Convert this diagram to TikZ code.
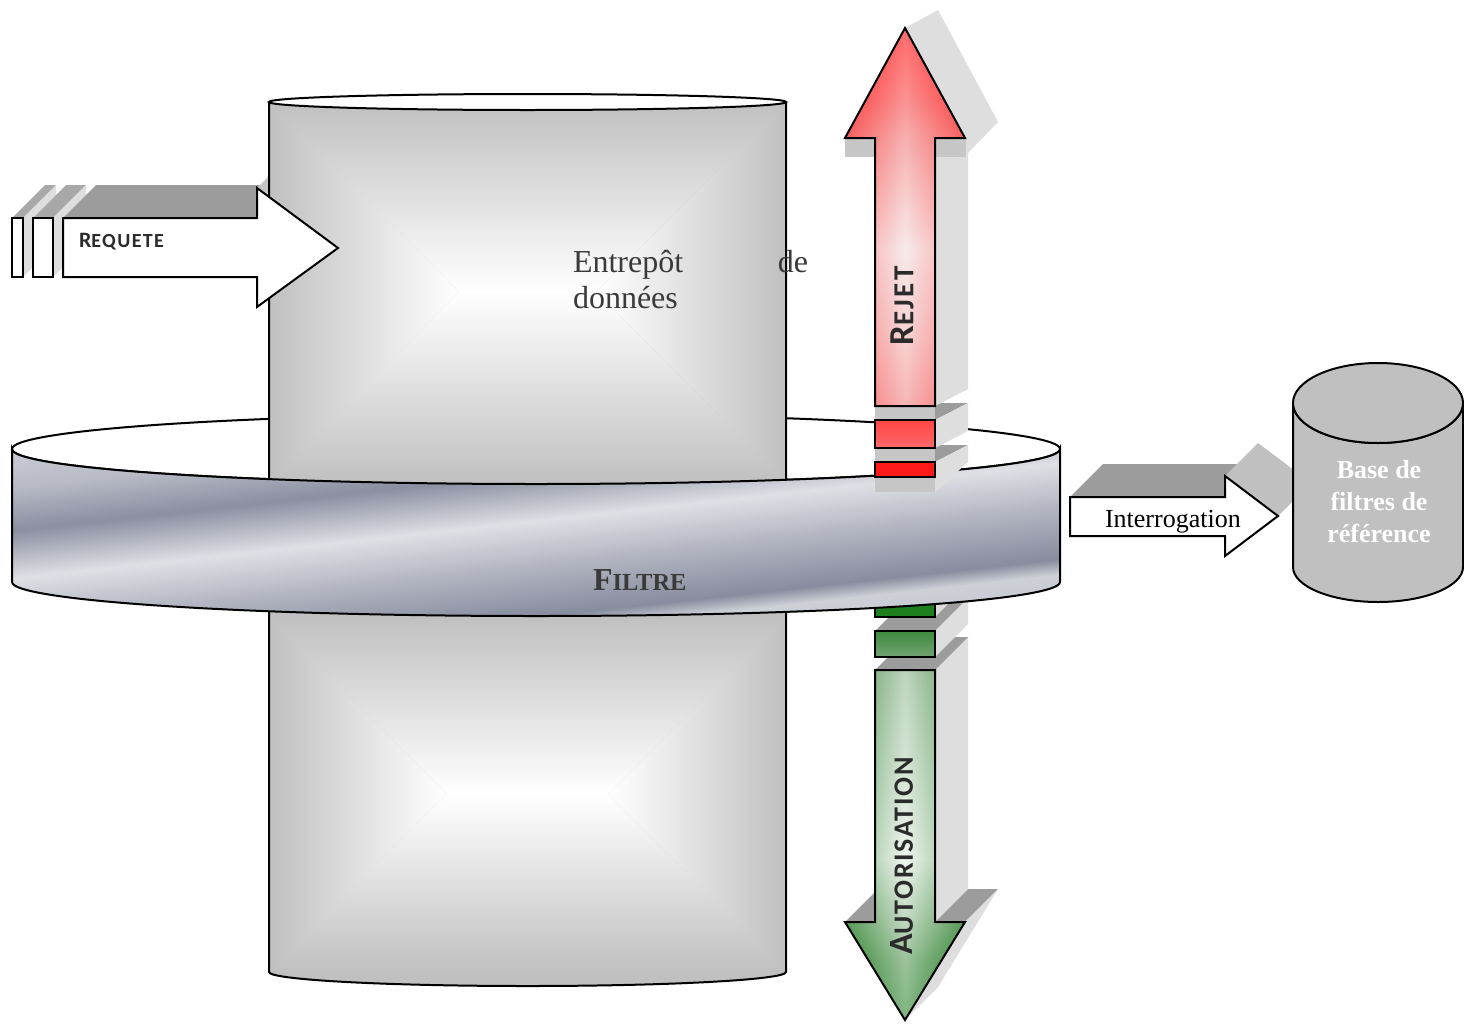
\documentclass[tikz,border=0pt]{standalone}
\usepackage{fontspec}
\setmainfont{Liberation Serif}
\newfontfamily\calib{Carlito}
\definecolor{cylgray}{HTML}{C0C0C0}
\definecolor{shdark}{HTML}{9C9C9C}
\definecolor{shlight}{HTML}{DEDEDE}
\definecolor{shmid}{HTML}{C6C6C6}
\definecolor{shreq}{HTML}{A8A8A8}
\definecolor{txtdark}{HTML}{2B2B2B}
\definecolor{txtgray}{HTML}{3A3A3A}
\definecolor{bsA}{HTML}{D0D2DA}
\definecolor{bsB}{HTML}{B8BBC6}
\definecolor{bsC}{HTML}{8A8FA1}
\definecolor{bsD}{HTML}{DFE0E5}
\definecolor{bsE}{HTML}{B3B6C2}
\definecolor{bsF}{HTML}{878C9E}
\definecolor{bsG}{HTML}{CDD0D7}
\definecolor{bsH}{HTML}{BEC1CA}
\definecolor{rA}{HTML}{FF1C1C}
\definecolor{rB}{HTML}{F85A5A}
\definecolor{rC}{HTML}{F28888}
\definecolor{rD}{HTML}{F4E2E2}
\definecolor{rE}{HTML}{F4C0C0}
\definecolor{rF}{HTML}{F49090}
\definecolor{gA}{HTML}{8AB28A}
\definecolor{gB}{HTML}{B6CFB6}
\definecolor{gC}{HTML}{E4EEE4}
\definecolor{gD}{HTML}{8EB88E}
\definecolor{gE}{HTML}{4C924C}
\definecolor{gF}{HTML}{1A781A}
\definecolor{redblkA}{HTML}{FF4545}
\definecolor{redblkB}{HTML}{FF6A6A}
\definecolor{redblkC}{HTML}{FF1A1A}
\definecolor{grnblkA}{HTML}{1E7F1E}
\definecolor{grnblkB}{HTML}{3E8A3E}
\definecolor{grnblkC}{HTML}{72A272}
\pgfdeclareverticalshading{bandshade}{100bp}{color(0bp)=(bsH); color(25bp)=(bsH); color(34.4bp)=(bsG); color(36.9bp)=(bsF); color(45.2bp)=(bsE); color(52.3bp)=(bsD); color(60bp)=(bsC); color(66.9bp)=(bsB); color(75bp)=(bsA); color(100bp)=(bsA)}
\pgfdeclareverticalshading{rejetshade}{100bp}{color(0bp)=(rF); color(25bp)=(rF); color(35bp)=(rE); color(45.6bp)=(rD); color(60.4bp)=(rC); color(65.5bp)=(rB); color(75bp)=(rA); color(100bp)=(rA)}
\pgfdeclareverticalshading{autoshade}{100bp}{color(0bp)=(gF); color(25bp)=(gF); color(33.6bp)=(gE); color(39bp)=(gD); color(47.9bp)=(gC); color(62.1bp)=(gB); color(75bp)=(gA); color(100bp)=(gA)}
\begin{document}
\begin{tikzpicture}[x=1pt,y=-1pt,line join=miter,
  ol/.style={draw=black,line width=2pt},
  shd/.style={fill=shdark,draw=none},
  shl/.style={fill=shlight,draw=none},
  shm/.style={fill=shmid,draw=none},
  shq/.style={fill=shreq,draw=none},
  lbl/.style={inner sep=0pt,outer sep=0pt}]
\useasboundingbox[fill=white] (0,0) rectangle (1464,1023);

% ---------- REQUETE shadows (behind cylinder)
\fill[shq] (12,218) -- (23,218) -- (56,185) -- (45,185) -- cycle;
\fill[shl] (23,218) -- (56,185) -- (56,244) -- (23,277) -- cycle;
\fill[shq] (33,218) -- (53,218) -- (86,185) -- (66,185) -- cycle;
\fill[shl] (53,218) -- (86,185) -- (86,244) -- (53,277) -- cycle;
\fill[shd] (63,218) -- (257,218) -- (290,185) -- (96,185) -- cycle;
\fill[shm] (257,188) -- (338,248) -- (371,215) -- (290,155) -- cycle;

% ---------- filter ring: top ellipse (hole)
\draw[ol,fill=white] (536,449) ellipse[x radius=524,y radius=35];

% ---------- big cylinder
\fill[cylgray] (269,102) -- (269,972) arc[start angle=180,end angle=0,x radius=258.5,y radius=14] -- (786,102) -- cycle;
\begin{scope}
 \clip (269,102) rectangle (786,972);
 \shade[top color=cylgray,bottom color=white] (269,102) -- (786,102) -- (596,292) -- (459,292) -- cycle;
 \shade[top color=white,bottom color=cylgray] (269,482) -- (786,482) -- (596,292) -- (459,292) -- cycle;
 \shade[left color=cylgray,right color=white] (269,102) -- (459,292) -- (269,482) -- cycle;
 \shade[left color=white,right color=cylgray] (786,102) -- (596,292) -- (786,482) -- cycle;
 \shade[top color=cylgray,bottom color=white] (269,616) -- (786,616) -- (608,794) -- (447,794) -- cycle;
 \shade[top color=white,bottom color=cylgray] (269,972) -- (786,972) -- (608,794) -- (447,794) -- cycle;
 \shade[left color=cylgray,right color=white] (269,616) -- (447,794) -- (269,972) -- cycle;
 \shade[left color=white,right color=cylgray] (786,616) -- (608,794) -- (786,972) -- cycle;
\end{scope}
\draw[ol] (269,102) -- (269,972) arc[start angle=180,end angle=0,x radius=258.5,y radius=14] -- (786,102);
\draw[ol,fill=white] (527.5,102) ellipse[x radius=258.5,y radius=8];

% ---------- REQUETE fronts
\draw[ol,fill=white] (12,218) rectangle (23,277);
\draw[ol,fill=white] (33,218) rectangle (53,277);
\draw[ol,fill=white] (63,218) -- (257,218) -- (257,188) -- (338,248) -- (257,307) -- (257,277) -- (63,277) -- cycle;

% ---------- Interrogation arrow + base cylinder
\fill[shd] (1070,497) -- (1225,497) -- (1258,464) -- (1103,464) -- cycle;
\fill[fill=cylgray] (1225,476) -- (1278,516) -- (1311,483) -- (1258,443) -- cycle;
\draw[ol,fill=cylgray] (1293,403) -- (1293,567) arc[start angle=180,end angle=0,x radius=85,y radius=35] -- (1463,403) arc[start angle=0,end angle=180,x radius=85,y radius=40] -- cycle;
\draw[ol,fill=cylgray] (1378,403) ellipse[x radius=85,y radius=40];
\draw[ol,fill=white] (1070,497) -- (1225,497) -- (1225,476) -- (1278,516) -- (1225,556) -- (1225,536) -- (1070,536) -- cycle;

% ---------- AUTORISATION group (behind band)
\fill[shd] (845,922) -- (965,922) -- (998,889) -- (878,889) -- cycle;
\fill[shl] (965,922) -- (998,889) -- (938,987) -- (905,1020) -- cycle;
\fill[shl] (935,670) -- (968,637) -- (968,889) -- (935,922) -- cycle;
\fill[shd] (875,670) -- (935,670) -- (968,637) -- (908,637) -- cycle;
\fill[shd] (875,631) -- (935,631) -- (968,598) -- (908,598) -- cycle;
\fill[shl] (935,631) -- (968,598) -- (968,624) -- (935,657) -- cycle;
\fill[shl] (935,592) -- (968,559) -- (968,584) -- (935,617) -- cycle;
\draw[ol,fill=grnblkA] (875,592) rectangle (935,617);
\draw[ol,top color=grnblkB,bottom color=grnblkC] (875,631) rectangle (935,657);
\shade[shading=autoshade] (875,670) -- (935,670) -- (935,922) -- (965,922) -- (905,1020) -- (845,922) -- (875,922) -- cycle;
\shade[left color=gF,right color=gF,middle color=white,fill opacity=0.45] (875,670) -- (935,670) -- (935,922) -- (965,922) -- (905,1020) -- (845,922) -- (875,922) -- cycle;
\draw[ol] (875,670) -- (935,670) -- (935,922) -- (965,922) -- (905,1020) -- (845,922) -- (875,922) -- cycle;

% ---------- filter band
\begin{scope}
 \clip (12,449) -- (12,582) arc[start angle=180,end angle=0,x radius=524,y radius=34] -- (1060,449) arc[start angle=0,end angle=180,x radius=524,y radius=35] -- cycle;
 \begin{scope}[transform canvas={rotate around={6.3:(536,550)}}]
  \shade[shading=bandshade] (0,380) rectangle (1100,690);
 \end{scope}
\end{scope}
\draw[ol] (12,449) -- (12,582) arc[start angle=180,end angle=0,x radius=524,y radius=34] -- (1060,449) arc[start angle=0,end angle=180,x radius=524,y radius=35] -- cycle;

% ---------- REJET group (in front)
\fill[shd] (875,462) -- (935,462) -- (968,445) -- (908,445) -- cycle;
\fill[shl] (935,462) -- (968,445) -- (968,462) -- (935,492) -- cycle;
\fill[shd] (875,420) -- (935,420) -- (968,403) -- (908,403) -- cycle;
\fill[shl] (935,420) -- (968,403) -- (968,431) -- (935,448) -- cycle;
\fill[shl] (905,28) -- (938,10) -- (998,122) -- (968,153) -- (968,389) -- (935,406) -- (935,138) -- (965,138) -- cycle;
\fill[shm] (845,139) rectangle (966,157);
\fill[shm] (875,406) rectangle (935,420);
\fill[shm] (875,448) rectangle (935,462);
\fill[shm] (875,477) rectangle (935,492);
\shade[shading=rejetshade] (905,28) -- (965,138) -- (935,138) -- (935,406) -- (875,406) -- (875,138) -- (845,138) -- cycle;
\shade[left color=rA,right color=rA,middle color=white,fill opacity=0.35] (905,28) -- (965,138) -- (935,138) -- (935,406) -- (875,406) -- (875,138) -- (845,138) -- cycle;
\draw[ol] (905,28) -- (965,138) -- (935,138) -- (935,406) -- (875,406) -- (875,138) -- (845,138) -- cycle;
\draw[ol,top color=redblkA,bottom color=redblkB] (875,420) rectangle (935,448);
\draw[ol,fill=redblkC] (875,462) rectangle (935,477);

% ---------- texts
\node[lbl,anchor=base west,text=txtdark] (req) at (79,247) {\calib\bfseries\fontsize{22}{22}\selectfont R\fontsize{20}{20}\selectfont\addfontfeature{LetterSpace=7}EQUETE};
\node[lbl,rotate=90,text=txtdark] (rej) at (902,306) {\calib\bfseries\fontsize{35}{35}\selectfont R\fontsize{29}{29}\selectfont\addfontfeature{LetterSpace=8}EJET};
\node[lbl,rotate=90,text=txtdark] (aut) at (902,856) {\calib\bfseries\fontsize{34}{34}\selectfont A\fontsize{28}{28}\selectfont\addfontfeature{LetterSpace=6}UTORISATION};
\node[lbl,anchor=base west,text=txtgray] (ent1) at (573,272) {\fontsize{32}{32}\selectfont Entrepôt};
\node[lbl,anchor=base east,text=txtgray] (ent2) at (808,272) {\fontsize{32}{32}\selectfont de};
\node[lbl,anchor=base west,text=txtgray] (ent3) at (573,308) {\fontsize{32}{32}\selectfont données};
\node[lbl,anchor=base west,text=txtgray] (fil) at (593,590) {\bfseries\fontsize{32}{32}\selectfont F\fontsize{24.5}{24.5}\selectfont ILTRE};
\node[lbl,anchor=base west,text=black] (inter) at (1105,527) {\fontsize{26}{26}\selectfont Interrogation};
\node[lbl,anchor=base,text=white] (b1) at (1379,478) {\bfseries\fontsize{26}{26}\selectfont Base de};
\node[lbl,anchor=base,text=white] (b2) at (1379,510) {\bfseries\fontsize{26}{26}\selectfont filtres de};
\node[lbl,anchor=base,text=white] (b3) at (1379,542) {\bfseries\fontsize{26}{26}\selectfont référence};
\end{tikzpicture}
\end{document}
